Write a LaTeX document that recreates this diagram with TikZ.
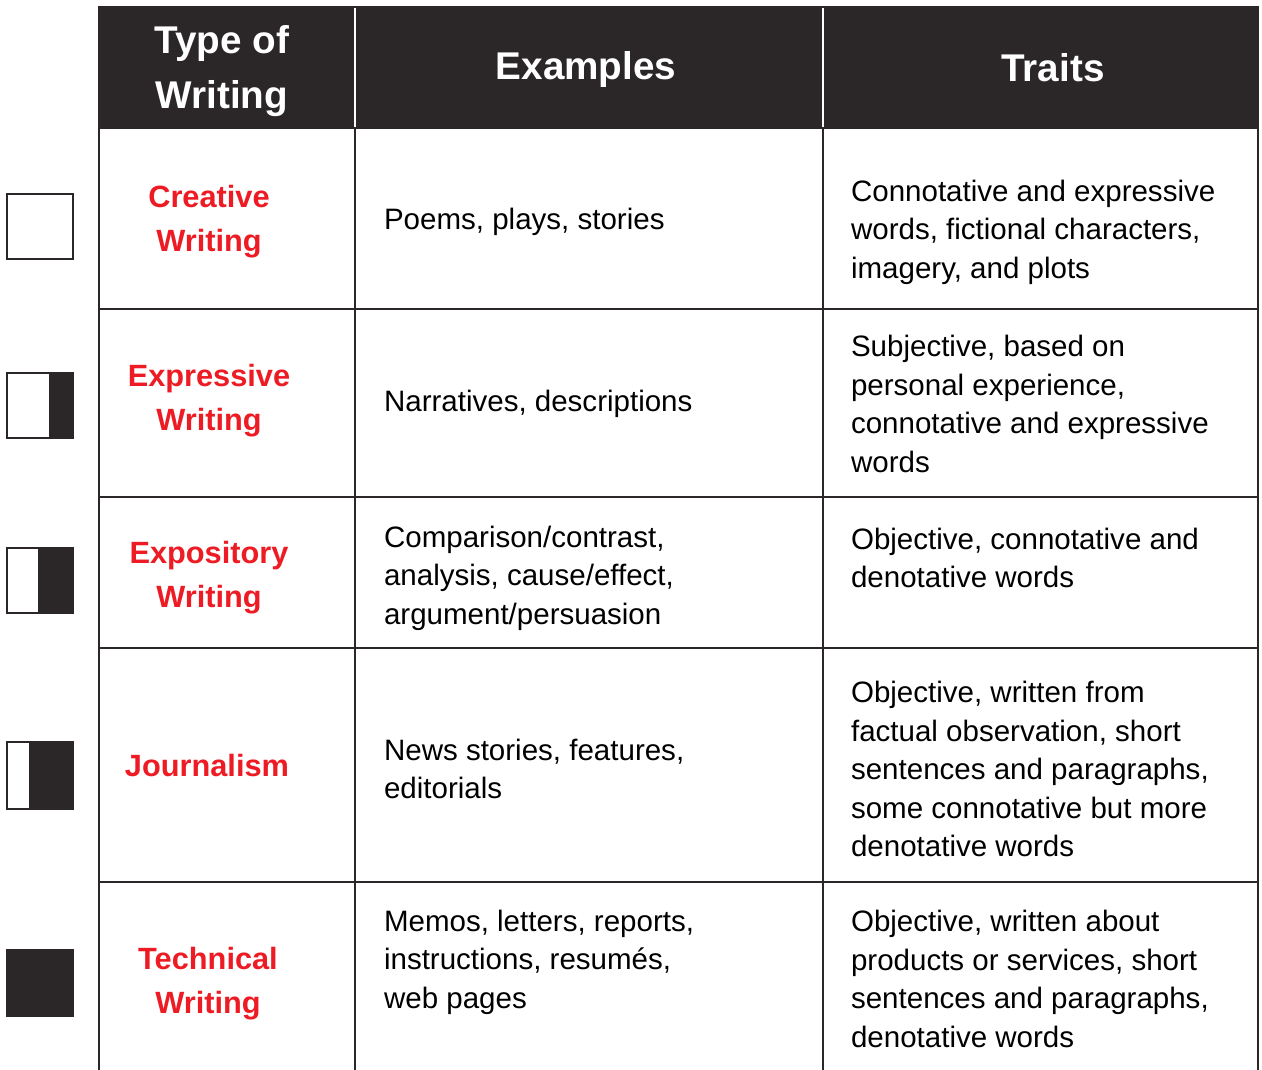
\documentclass[tikz,border=0pt]{standalone}
\usepackage{fontspec}
\setmainfont{Liberation Sans}
\definecolor{ink}{RGB}{43,39,40}
\definecolor{redlabel}{RGB}{237,28,36}

\begin{document}
\begin{tikzpicture}[x=0.02cm,y=-0.02cm,line width=1.2pt,
                    head/.style={text=white,font=\fontsize{22}{31}\selectfont\bfseries,align=center},
                    type node/.style={text=redlabel,font=\fontsize{17.5}{25}\selectfont\bfseries,align=center},
                    cell/.style={anchor=west,align=left,inner xsep=0pt,font=\fontsize{16.8}{21.9}\selectfont},
                    mark box/.style={draw=ink,line width=1.3pt}]
  \useasboundingbox (0,0) rectangle (1262,1070);
  % header
  \fill[ink] (99,6) rectangle (1258,128);
  \draw[white,line width=0.8pt] (355,8) -- (355,128) (823,8) -- (823,128);
  % grid
  \draw[ink] (99,6) -- (99,1070) (355,128) -- (355,1070)
    (823,128) -- (823,1070) (1258,6) -- (1258,1070);
  \foreach \y in {128,309,497,648,882}
    \draw[ink] (99,\y) -- (1258,\y);
  % header texts
  \node[head] (h1) at (222,71) {Type of\\Writing};
  \node[head] (h2) at (586,70) {Examples};
  \node[head] (h3) at (1053,68) {Traits};
  % types
  \node[type node] (t1) at (209,222) {Creative\\Writing};
  \node[type node] (t2) at (209,401) {Expressive\\Writing};
  \node[type node] (t3) at (209,578) {Expository\\Writing};
  \node[type node] (t4) at (207,766) {Journalism};
  \node[type node] (t5) at (208,984) {Technical\\Writing};
  % examples
  \node[cell] (e1) at (383,222) {Poems, plays, stories};
  \node[cell] (e2) at (383,404) {Narratives, descriptions};
  \node[cell] (e3) at (383,578) {Comparison/contrast,\\analysis, cause/effect,\\argument/persuasion};
  \node[cell] (e4) at (383,769) {News stories, features,\\editorials};
  \node[cell] (e5) at (383,962) {Memos, letters, reports,\\instructions, resumés,\\web pages};
  % traits
  \node[cell] (r1) at (850,232) {Connotative and expressive\\words, fictional characters,\\imagery, and plots};
  \node[cell] (r2) at (850,404) {Subjective, based on\\personal experience,\\connotative and expressive\\words};
  \node[cell] (r3) at (850,558) {Objective, connotative and\\denotative words};
  \node[cell] (r4) at (850,769) {Objective, written from\\factual observation, short\\sentences and paragraphs,\\some connotative but more\\denotative words};
  \node[cell] (r5) at (850,979) {Objective, written about\\products or services, short\\sentences and paragraphs,\\denotative words};
  % marks
  \draw[mark box] (7,194) rectangle (73,259);
  \fill[ink] (49,372) rectangle (74,439);
  \draw[mark box] (7,373) rectangle (73,438);
  \fill[ink] (38,547) rectangle (74,614);
  \draw[mark box] (7,548) rectangle (73,613);
  \fill[ink] (29,741) rectangle (74,810);
  \draw[mark box] (7,742) rectangle (73,809);
  \fill[ink] (6,949) rectangle (74,1017);
\end{tikzpicture}
\end{document}
